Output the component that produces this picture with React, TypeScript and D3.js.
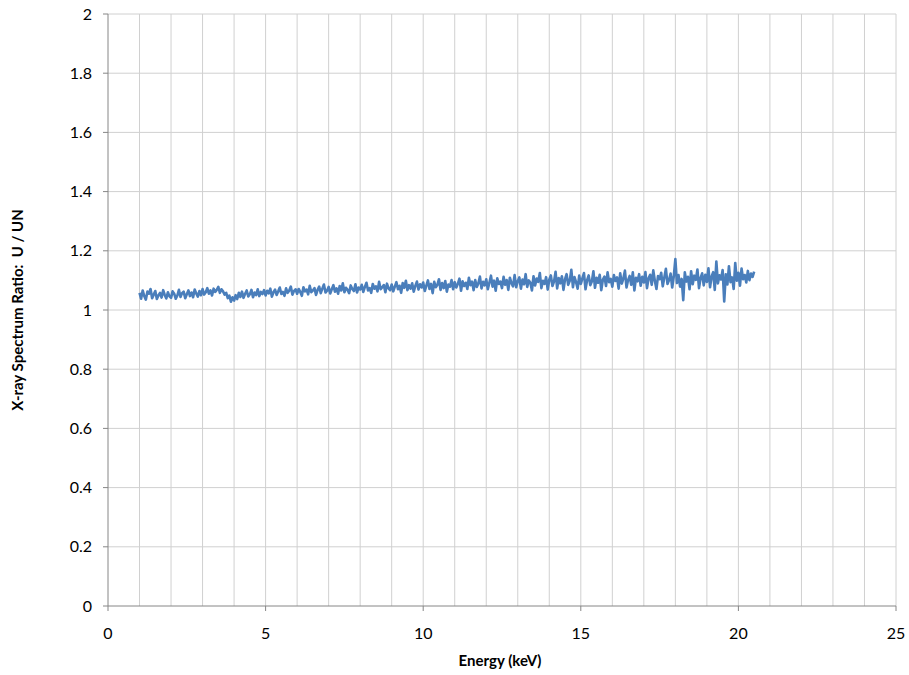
import React from "react";
import * as d3 from "d3";

const X_TICKS = [0, 5, 10, 15, 20, 25];
const Y_TICKS = [0, 0.2, 0.4, 0.6, 0.8, 1, 1.2, 1.4, 1.6, 1.8, 2];
const ENERGY_START = 1.0;
const ENERGY_STEP = 0.05;
const RATIO = [
  1.058,1.038,1.066,1.047,1.035,1.062,1.055,1.071,1.040,1.052,1.064,1.037,1.049,1.058,1.042,1.067,1.051,1.039,1.060,1.046,
  1.041,1.063,1.055,1.038,1.049,1.068,1.044,1.057,1.062,1.040,1.053,1.066,1.047,1.059,1.043,1.069,1.056,1.045,1.064,1.050,
  1.071,1.052,1.060,1.074,1.055,1.066,1.049,1.072,1.061,1.068,1.078,1.058,1.070,1.063,1.052,1.058,1.040,1.049,1.028,1.043,
  1.032,1.050,1.037,1.058,1.044,1.062,1.041,1.055,1.066,1.046,1.053,1.068,1.043,1.059,1.050,1.070,1.047,1.061,1.054,1.067,
  1.049,1.065,1.056,1.072,1.045,1.060,1.069,1.051,1.063,1.076,1.054,1.061,1.048,1.073,1.058,1.066,1.079,1.052,1.064,1.070,
  1.055,1.071,1.061,1.048,1.077,1.063,1.069,1.053,1.082,1.060,1.066,1.074,1.051,1.068,1.079,1.057,1.072,1.086,1.059,1.065,
  1.078,1.056,1.070,1.084,1.062,1.073,1.055,1.081,1.066,1.090,1.060,1.075,1.068,1.057,1.083,1.071,1.064,1.087,1.059,1.076,
  1.069,1.085,1.061,1.078,1.092,1.066,1.074,1.058,1.088,1.072,1.080,1.063,1.095,1.070,1.077,1.084,1.060,1.089,1.073,1.067,
  1.086,1.063,1.079,1.094,1.070,1.082,1.058,1.091,1.075,1.099,1.067,1.084,1.072,1.090,1.062,1.081,1.096,1.069,1.087,1.076,
  1.093,1.064,1.082,1.100,1.071,1.088,1.057,1.095,1.077,1.085,1.104,1.068,1.091,1.074,1.098,1.062,1.086,1.079,1.101,1.070,
  1.094,1.076,1.089,1.106,1.065,1.097,1.081,1.092,1.071,1.109,1.084,1.096,1.067,1.101,1.078,1.090,1.113,1.073,1.095,1.083,
  1.104,1.070,1.092,1.116,1.079,1.099,1.065,1.107,1.088,1.096,1.074,1.112,1.085,1.101,1.068,1.109,1.091,1.080,1.118,1.077,
  1.097,1.110,1.072,1.103,1.087,1.121,1.078,1.100,1.092,1.066,1.114,1.083,1.106,1.095,1.125,1.074,1.099,1.088,1.111,1.069,
  1.102,1.117,1.081,1.096,1.129,1.073,1.108,1.090,1.114,1.068,1.104,1.121,1.085,1.099,1.136,1.077,1.111,1.094,1.072,1.116,
  1.088,1.107,1.125,1.070,1.101,1.117,1.084,1.096,1.131,1.075,1.109,1.092,1.119,1.067,1.103,1.113,1.081,1.127,1.094,1.105,
  1.079,1.118,1.098,1.110,1.072,1.124,1.089,1.106,1.133,1.076,1.101,1.115,1.085,1.127,1.066,1.109,1.097,1.121,1.082,1.112,
  1.093,1.128,1.074,1.107,1.119,1.085,1.134,1.098,1.071,1.115,1.104,1.126,1.080,1.110,1.139,1.088,1.101,1.123,1.076,1.114,
  1.172,1.091,1.118,1.079,1.105,1.033,1.127,1.096,1.112,1.070,1.131,1.087,1.116,1.102,1.137,1.074,1.108,1.124,1.083,1.119,
  1.095,1.141,1.077,1.113,1.128,1.068,1.164,1.090,1.117,1.103,1.135,1.029,1.121,1.086,1.148,1.094,1.110,1.071,1.159,1.099,
  1.126,1.082,1.140,1.104,1.118,1.093,1.132,1.101,1.123,1.112,1.130,
];

const FONT = "Lato, 'Liberation Sans', sans-serif";

export default function App() {
  const W = 909, H = 675;
  const x = d3.scaleLinear().domain([0, 25]).range([108, 896]);
  const y = d3.scaleLinear().domain([0, 2]).range([606, 14]);
  const pts = RATIO.map((v, i) => [ENERGY_START + i * ENERGY_STEP, v] as [number, number]);
  const line = d3.line<[number, number]>().x(d => x(d[0])).y(d => y(d[1]));
  const vGrid = d3.range(1, 26);
  return (
    <svg width={W} height={H} style={{ position: "absolute", left: 0, top: 0, background: "#fff" }}>
      <rect width={W} height={H} fill="#fff" />
      {vGrid.map(v => (
        <line key={"vg" + v} x1={x(v)} x2={x(v)} y1={y(0)} y2={y(2)} stroke="#d0d0d0" strokeWidth={1} />
      ))}
      {Y_TICKS.filter(v => v > 0).map(v => (
        <line key={"hg" + v} x1={x(0)} x2={x(25)} y1={y(v)} y2={y(v)} stroke="#d0d0d0" strokeWidth={1} />
      ))}
      <line x1={x(0)} x2={x(0)} y1={y(0)} y2={y(2)} stroke="#868686" strokeWidth={1} />
      <line x1={x(0)} x2={x(25)} y1={y(0)} y2={y(0)} stroke="#868686" strokeWidth={1} />
      {Y_TICKS.map(v => (
        <line key={"yt" + v} x1={x(0) - 5} x2={x(0)} y1={y(v)} y2={y(v)} stroke="#868686" />
      ))}
      {X_TICKS.map(v => (
        <line key={"xt" + v} x1={x(v)} x2={x(v)} y1={y(0)} y2={y(0) + 5} stroke="#868686" />
      ))}
      {Y_TICKS.map(v => (
        <text key={"yl" + v} x={x(0) - 16} y={y(v)} dy="0.35em" textAnchor="end" fontFamily={FONT} fontSize={16} fill="#000">
          {d3.format("~g")(v)}
        </text>
      ))}
      {X_TICKS.map(v => (
        <text key={"xl" + v} x={x(v)} y={y(0) + 27} dy="0.35em" textAnchor="middle" fontFamily={FONT} fontSize={16} fill="#000">
          {v}
        </text>
      ))}
      <path d={line(pts) || ""} fill="none" stroke="#4a7ebb" strokeWidth={2.6} strokeLinejoin="round" />
      <text x={500} y={661} dy="0.35em" textAnchor="middle" fontFamily={FONT} fontWeight="bold" fontSize={15} fill="#000">
        Energy (keV)
      </text>
      <text transform={`translate(18,310) rotate(-90)`} dy="0.35em" textAnchor="middle" fontFamily={FONT} fontWeight="bold" fontSize={15} fill="#000" style={{ whiteSpace: "pre" }}>
        {"X-ray Spectrum Ratio:  U / UN"}
      </text>
    </svg>
  );
}
